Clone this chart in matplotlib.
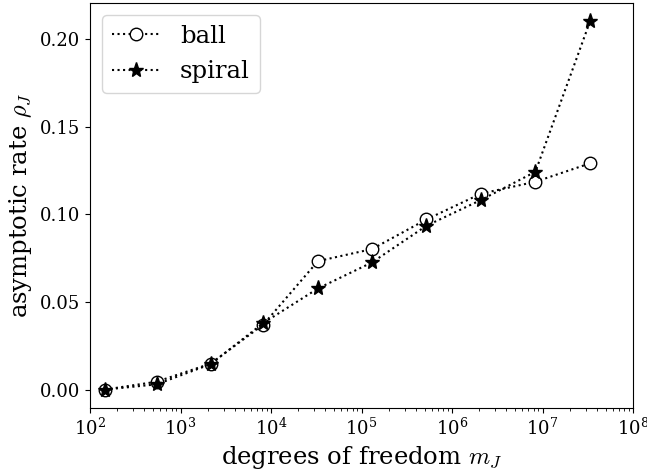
import matplotlib
matplotlib.use("Agg")
import matplotlib.pyplot as plt

plt.rcParams['font.family'] = 'DejaVu Serif'
plt.rcParams['mathtext.fontset'] = 'cm'

dofs = [146, 545, 2150, 8230, 33000, 131000, 522000, 2090000, 8350000, 33500000]
ball = [0.000, 0.0045, 0.0148, 0.0371, 0.0733, 0.0802, 0.0971, 0.1118, 0.1186, 0.1291]
spiral = [0.000, 0.0030, 0.0145, 0.0380, 0.0577, 0.0726, 0.0935, 0.1082, 0.1243, 0.2101]

fig = plt.figure(figsize=(6.47, 4.70), dpi=100)
ax = fig.add_axes([90/647, 1-408/470, (633-90)/647, (408-3)/470])
ax.plot(dofs, ball, 'k:', marker='o', markerfacecolor='white', markeredgecolor='black',
        markersize=9, linewidth=1.5, label='ball')
ax.plot(dofs, spiral, 'k:', marker='*', markerfacecolor='black', markeredgecolor='black',
        markersize=11, linewidth=1.5, label='spiral')
ax.set_xscale('log')
ax.set_xlim(1e2, 1e8)
ax.tick_params(labelsize=13)
ax.set_xlabel(r'degrees of freedom $m_J$', fontsize=17.5)
ax.set_ylabel(r'asymptotic rate $\rho_J$', fontsize=17.5)
ax.legend(loc='upper left', fontsize=17.5)
fig.savefig('out.png', dpi=100)
